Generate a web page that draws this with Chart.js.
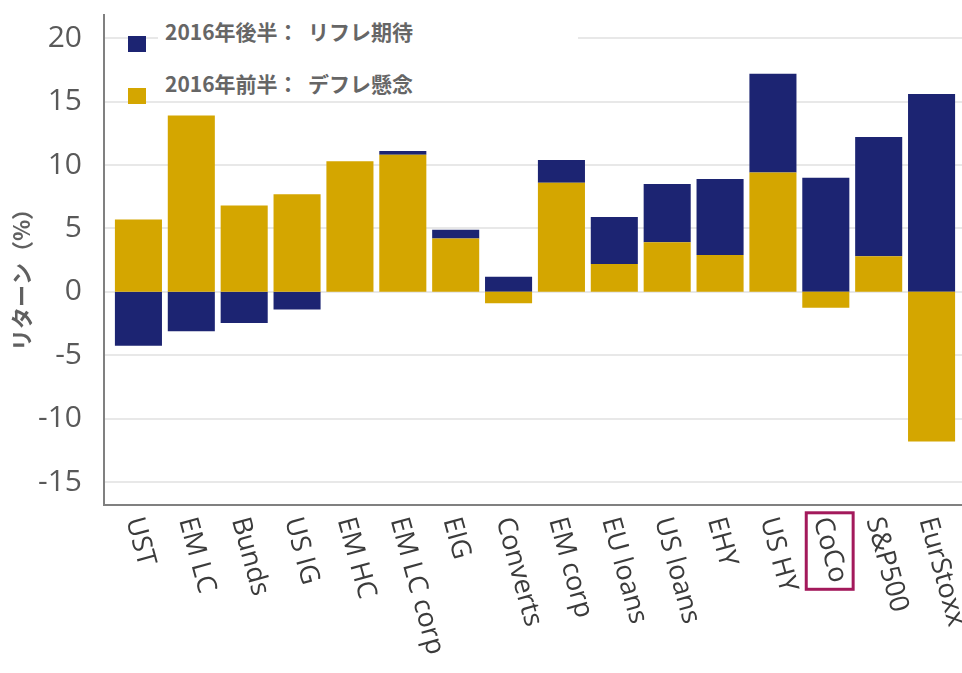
<!DOCTYPE html>
<html>
<head>
<meta charset="utf-8">
<script src="https://cdn.jsdelivr.net/npm/chart.js@4.4.1/dist/chart.umd.min.js"></script>
<style>
    html, body { margin: 0; padding: 0; background: #fff; }
    #wrap { position: relative; width: 962px; height: 673px; }
    .key { position: absolute; width: 18px; height: 16px; }
    .legText {
        position: absolute; height: 30px; line-height: 30px; background: #fff;
        font-family: 'Noto Sans CJK JP', sans-serif; font-weight: bold; font-size: 21px; color: #666;
        white-space: pre; box-sizing: border-box;
    }
</style>
</head>
<body>
<div id="wrap">
    <canvas id="returnsChart" width="962" height="673"></canvas>
    <div class="key" style="left:128px; top:36px; background:#1c2472;"></div>
    <div class="legText" style="left:158px; top:16px; width:420px; padding-left:7px;">2016年後半：  リフレ期待</div>
    <div class="key" style="left:128px; top:88px; background:#d4a600;"></div>
    <div class="legText" style="left:150px; top:68px; width:377px; padding-left:15px;">2016年前半：  デフレ懸念</div>
</div>
<script>
// DATA
const categories = ['UST', 'EM LC', 'Bunds', 'US IG', 'EM HC', 'EM LC corp', 'EIG', 'Converts',
    'EM corp', 'EU loans', 'US loans', 'EHY', 'US HY', 'CoCo', 'S&P500', 'EurStoxx'];
const firstHalf = [5.7, 13.9, 6.8, 7.7, 10.3, 10.8, 4.2, -0.9, 8.6, 2.2, 3.9, 2.9, 9.4, -1.25, 2.8, -11.8];
const secondHalf = [-4.25, -3.1, -2.45, -1.4, null, 0.3, 0.7, 1.2, 1.8, 3.7, 4.6, 6.0, 7.8, 9.0, 9.4, 15.6];
const yTicks = [-15, -10, -5, 0, 5, 10, 15, 20];
const yMin = -16.8;
const yMax = 21.9;
const yTitle = 'リターン（%）';
const highlighted = 'CoCo';

const NAVY = '#1c2472';
const GOLD = '#d4a600';

// grid + axis lines drawn a bit wider than the bar area, like the original
const framePlugin = {
    id: 'frame',
    beforeDatasetsDraw(chart) {
        const { ctx, chartArea, scales: { y } } = chart;
        ctx.save();
        ctx.strokeStyle = '#e8e8e8';
        ctx.lineWidth = 2;
        yTicks.forEach(t => {
            const py = Math.round(y.getPixelForValue(t));
            ctx.beginPath();
            ctx.moveTo(chartArea.left - 8, py);
            ctx.lineTo(chart.width, py);
            ctx.stroke();
        });
        ctx.restore();
    },
    afterDraw(chart) {
        const { ctx, chartArea, scales: { x } } = chart;
        ctx.save();
        // axis lines
        ctx.strokeStyle = '#808080';
        ctx.lineWidth = 2;
        ctx.beginPath();
        ctx.moveTo(chartArea.left - 8, chartArea.top);
        ctx.lineTo(chartArea.left - 8, chartArea.bottom);
        ctx.lineTo(chart.width, chartArea.bottom);
        ctx.stroke();

        // y axis title, sitting a little below the middle
        ctx.save();
        ctx.translate(22, (chartArea.top + chartArea.bottom) / 2 + 15);
        ctx.rotate(-Math.PI / 2);
        ctx.font = "bold 22px 'Noto Sans CJK JP', sans-serif";
        ctx.fillStyle = '#606060';
        ctx.textAlign = 'center';
        ctx.textBaseline = 'middle';
        ctx.fillText(yTitle, 0, 0);
        ctx.restore();

        // rotated category labels (reading downwards)
        const angle = 74.5 * Math.PI / 180;
        ctx.font = "27px 'Open Sans', sans-serif";
        ctx.fillStyle = '#3b3b3b';
        ctx.textAlign = 'left';
        ctx.textBaseline = 'middle';
        categories.forEach((label, i) => {
            const px = x.getPixelForValue(i) - 5;
            const py = chartArea.bottom + 13;
            ctx.save();
            ctx.translate(px, py);
            ctx.rotate(angle);
            ctx.fillText(label, 0, 0);
            ctx.restore();

            if (label === highlighted) {
                const w = ctx.measureText(label).width;
                const h = 24;
                const c = Math.cos(angle), s = Math.sin(angle);
                const pts = [[0, -h / 2], [0, h / 2], [w, -h / 2], [w, h / 2]].map(([a, b]) =>
                    [px + a * c - b * s, py + a * s + b * c]);
                const xs = pts.map(p => p[0]), ys = pts.map(p => p[1]);
                const pad = 3;
                ctx.strokeStyle = '#a3195b';
                ctx.lineWidth = 3;
                ctx.strokeRect(Math.min(...xs) - pad, Math.min(...ys) - pad + 1,
                    Math.max(...xs) - Math.min(...xs) + pad * 2, Math.max(...ys) - Math.min(...ys) + pad * 2);
            }
        });
        ctx.restore();
    }
};

const ctx = document.getElementById('returnsChart').getContext('2d');
new Chart(ctx, {
    type: 'bar',
    data: {
        labels: categories,
        datasets: [
            { label: '2016年前半：デフレ懸念', data: firstHalf, backgroundColor: GOLD },
            { label: '2016年後半：リフレ期待', data: secondHalf, backgroundColor: NAVY }
        ]
    },
    options: {
        responsive: false,
        animation: false,
        layout: { padding: { top: 14, right: 4, left: 0, bottom: 0 } },
        datasets: { bar: { barPercentage: 0.89, categoryPercentage: 1 } },
        plugins: { legend: { display: false }, tooltip: { enabled: false } },
        scales: {
            x: {
                stacked: true,
                grid: { display: false },
                border: { display: false },
                ticks: { display: false },
                afterFit: (scale) => { scale.height = 168; scale.paddingLeft = 0; scale.paddingRight = 0; }
            },
            y: {
                stacked: true,
                min: yMin, max: yMax,
                afterBuildTicks: (scale) => { scale.ticks = yTicks.map(v => ({ value: v })); },
                grid: { display: false },
                border: { display: false },
                ticks: {
                    padding: 22,
                    color: '#595959',
                    font: { family: "'Open Sans', sans-serif", size: 30 }
                },
                afterFit: (scale) => { scale.width = 112; scale.paddingTop = 0; scale.paddingBottom = 0; }
            }
        }
    },
    plugins: [framePlugin]
});
</script>
</body>
</html>
